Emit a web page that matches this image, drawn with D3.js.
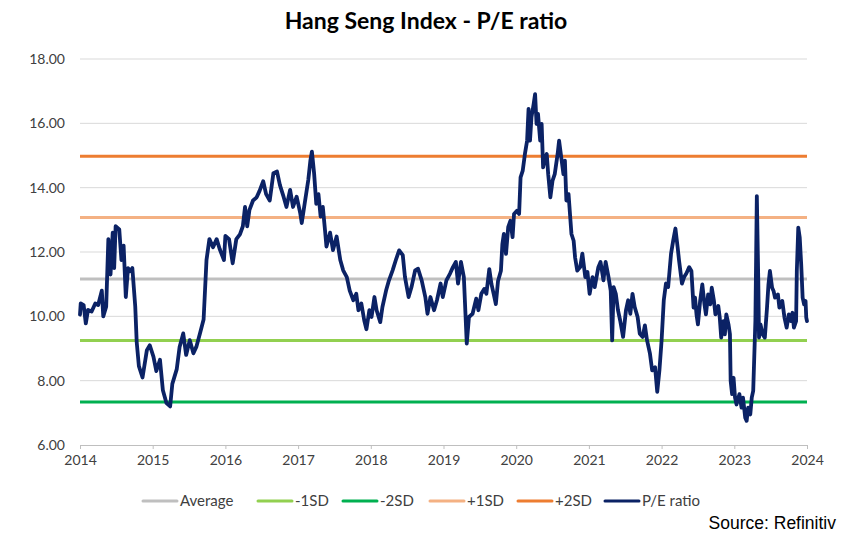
<!DOCTYPE html>
<html><head><meta charset="utf-8">
<script src="https://cdn.jsdelivr.net/npm/d3@7"></script>
<style>body{margin:0;background:#fff}</style>
</head><body><svg id="c" width="842" height="540"></svg>
<script>
const chartTitle = "Hang Seng Index - P/E ratio";
const sourceText = "Source: Refinitiv";
const xTickYears = [2014,2015,2016,2017,2018,2019,2020,2021,2022,2023,2024];
const yTickValues = [6,8,10,12,14,16,18];
const levelNames = ["Average","-1SD","-2SD","+1SD","+2SD"];
const levelValues = [11.16, 9.25, 7.34, 13.07, 14.98];
const seriesName = "P/E ratio";
const peDates = [
2014.00,2014.01,2014.05,2014.08,2014.11,2014.16,2014.21,2014.25,2014.30,2014.32,2014.36,2014.39,2014.42,2014.45,2014.47,2014.49,2014.54,2014.57,2014.60,2014.63,2014.66,2014.69,2014.72,2014.76,2014.78,2014.81,2014.86,2014.92,2014.96,
2015.01,2015.05,2015.10,2015.14,2015.19,2015.24,2015.27,2015.33,2015.37,2015.42,2015.46,2015.51,2015.56,2015.60,2015.65,2015.70,2015.74,2015.78,2015.83,2015.88,2015.92,2015.98,
2016.00,2016.05,2016.10,2016.15,2016.20,2016.24,2016.27,2016.30,2016.33,2016.38,2016.43,2016.47,2016.52,2016.56,2016.61,2016.66,2016.71,2016.75,2016.80,2016.84,2016.89,2016.93,2016.98,
2017.03,2017.05,2017.09,2017.14,2017.17,2017.19,2017.22,2017.25,2017.28,2017.31,2017.34,2017.37,2017.39,2017.44,2017.48,2017.53,2017.58,2017.62,2017.67,2017.71,2017.76,2017.80,2017.83,2017.87,2017.91,2017.94,2017.98,
2018.01,2018.05,2018.08,2018.13,2018.16,2018.21,2018.25,2018.30,2018.35,2018.39,2018.44,2018.47,2018.52,2018.56,2018.61,2018.65,2018.70,2018.75,2018.78,2018.82,2018.87,2018.91,2018.96,2018.99,
2019.04,2019.09,2019.13,2019.17,2019.20,2019.24,2019.28,2019.32,2019.35,2019.40,2019.45,2019.48,2019.52,2019.56,2019.59,2019.63,2019.66,2019.69,2019.72,2019.75,2019.79,2019.81,2019.83,2019.86,2019.89,2019.92,2019.95,2019.97,
2020.01,2020.04,2020.06,2020.09,2020.12,2020.15,2020.17,2020.19,2020.21,2020.24,2020.26,2020.28,2020.30,2020.33,2020.35,2020.37,2020.40,2020.42,2020.44,2020.47,2020.50,2020.53,2020.57,2020.59,2020.62,2020.65,2020.67,2020.69,2020.72,2020.74,2020.76,2020.79,2020.81,2020.84,2020.88,2020.91,2020.95,2020.98,
2021.01,2021.05,2021.08,2021.13,2021.16,2021.20,2021.23,2021.27,2021.30,2021.32,2021.34,2021.37,2021.40,2021.43,2021.47,2021.51,2021.54,2021.57,2021.60,2021.63,2021.67,2021.70,2021.74,2021.77,2021.80,2021.84,2021.87,2021.91,2021.94,2021.97,
2022.00,2022.03,2022.06,2022.09,2022.13,2022.16,2022.19,2022.22,2022.24,2022.28,2022.31,2022.34,2022.38,2022.41,2022.44,2022.46,2022.48,2022.50,2022.53,2022.56,2022.59,2022.61,2022.64,2022.67,2022.69,2022.72,2022.74,2022.78,2022.80,2022.82,2022.85,2022.87,2022.89,2022.92,2022.94,2022.95,2022.97,2022.99,
2023.01,2023.03,2023.07,2023.10,2023.12,2023.15,2023.17,2023.19,2023.22,2023.24,2023.26,2023.29,2023.31,2023.33,2023.34,2023.36,2023.39,2023.42,2023.45,2023.47,2023.49,2023.52,2023.54,2023.56,2023.60,2023.62,2023.66,2023.69,2023.72,2023.75,2023.78,2023.80,2023.82,2023.85,2023.86,2023.88,2023.90,2023.92,2023.94,2023.96,2023.98,2023.99,2024.00
];
const peValues = [
10.05,10.4,10.35,9.78,10.2,10.15,10.4,10.35,10.8,10.0,10.3,12.4,11.3,12.6,11.5,12.8,12.7,11.75,12.2,10.6,11.5,11.4,11.5,10.3,9.2,8.45,8.1,8.95,9.1,
8.75,8.3,8.65,7.7,7.3,7.2,7.9,8.35,9.05,9.47,8.8,9.26,8.85,9.05,9.47,9.9,11.75,12.4,12.15,12.4,12.1,11.75,
12.5,12.4,11.65,12.4,12.55,12.8,13.4,12.8,13.3,13.6,13.7,13.9,14.2,13.8,13.6,14.45,14.5,14.08,13.72,13.4,13.93,13.4,13.72,
13.2,12.9,13.5,14.24,14.86,15.12,14.45,13.5,13.8,13.1,13.4,12.68,12.17,12.6,12.06,12.48,11.75,11.43,11.22,10.8,10.5,10.7,10.19,10.4,9.87,9.6,10.19,
9.98,10.6,10.19,9.82,10.29,10.8,11.12,11.43,11.79,12.05,11.9,11.22,10.6,10.91,11.43,11.48,11.12,10.6,10.08,10.6,10.19,10.5,11.02,10.6,
11.12,11.33,11.53,11.69,11.02,11.69,11.22,9.15,9.98,10.08,10.55,10.19,10.7,10.85,10.7,11.47,11.0,10.7,10.38,11.1,11.42,12.25,12.56,11.94,12.77,12.97,12.46,13.18,
13.28,13.18,14.32,14.53,15.05,15.46,16.45,15.46,16.19,16.6,16.91,15.98,16.29,15.46,15.98,14.63,14.94,15.05,14.42,13.7,14.22,14.42,15.05,15.46,14.94,14.42,14.84,13.6,13.8,13.18,12.56,12.35,11.83,11.42,11.53,11.95,11.22,11.38,
10.7,11.22,10.91,11.53,11.69,11.12,11.69,11.22,10.8,9.25,10.91,10.7,10.19,9.87,9.36,10.19,10.5,10.08,10.7,10.29,9.98,9.46,9.36,9.72,9.25,8.84,8.32,8.42,7.65,8.32,
9.25,10.5,11.02,10.91,11.95,12.36,12.73,12.16,11.74,11.02,11.22,11.33,11.53,11.41,10.27,10.58,10.06,9.75,10.48,10.99,10.37,10.06,10.68,10.37,10.89,10.48,10.06,10.32,9.96,9.34,9.85,9.44,10.06,9.75,9.44,7.99,7.58,8.09,
7.47,7.26,7.58,7.16,7.47,6.85,6.75,7.16,6.95,7.47,7.68,9.85,13.74,11.1,9.34,9.75,9.44,9.34,10.27,10.99,11.41,10.89,10.79,10.58,10.68,10.27,10.48,9.96,9.65,10.06,9.85,10.11,9.65,9.85,11.41,12.76,12.45,11.62,10.58,10.37,10.48,9.96,9.85
];

const levelColors = {"Average":"#bfbfbf","-1SD":"#92d050","-2SD":"#00b050","+1SD":"#f4b183","+2SD":"#ed7d31"};
const peColor = "#0b2265";
const font = "Lato, 'Open Sans', sans-serif";

const svg = d3.select("#c");
svg.append("rect").attr("width",842).attr("height",540).attr("fill","#fff");

const x = d3.scaleLinear().domain([2014,2024]).range([80,807]);
const y = d3.scaleLinear().domain([6,18]).range([445,59]);

// title
svg.append("text").attr("x",426).attr("y",29).attr("text-anchor","middle")
  .attr("font-family",font).attr("font-weight","bold").attr("font-size",23)
  .attr("fill","#000").text(chartTitle);

// gridlines
svg.append("g").selectAll("line").data(yTickValues.filter(v=>v>6)).join("line")
  .attr("x1",x(2014)).attr("x2",x(2024)).attr("y1",d=>y(d)).attr("y2",d=>y(d))
  .attr("stroke","#d9d9d9").attr("stroke-width",1);

// y axis labels
const yAxis = d3.axisLeft(y).tickValues(yTickValues).tickFormat(d3.format(".2f")).tickSize(0).tickPadding(15);
const gy = svg.append("g").attr("transform",`translate(${x(2014)},0)`).call(yAxis);
gy.select(".domain").remove();
gy.selectAll("text").attr("font-family",font).attr("font-size",14).attr("fill","#404040");

// x axis
const xAxis = d3.axisBottom(x).tickValues(xTickYears).tickFormat(d3.format("d")).tickSize(4).tickPadding(6);
const gx = svg.append("g").attr("transform",`translate(0,${y(6)})`).call(xAxis);
gx.select(".domain").attr("stroke","#bfbfbf");
gx.selectAll(".tick line").attr("stroke","#bfbfbf");
gx.selectAll("text").attr("font-family",font).attr("font-size",14).attr("fill","#404040");

// level lines
svg.append("g").selectAll("line").data(levelNames).join("line")
  .attr("x1",x(2014)).attr("x2",x(2024))
  .attr("y1",(d,i)=>y(levelValues[i])).attr("y2",(d,i)=>y(levelValues[i]))
  .attr("stroke",d=>levelColors[d]).attr("stroke-width",3);

// PE line
const pts = peDates.map((d,i)=>[d,peValues[i]]);
svg.append("path").datum(pts)
  .attr("d",d3.line().x(d=>x(d[0])).y(d=>y(d[1])))
  .attr("fill","none").attr("stroke",peColor).attr("stroke-width",3.8)
  .attr("stroke-linejoin","round").attr("stroke-linecap","round");

// legend
const legendItems = levelNames.map(n=>({name:n,color:levelColors[n]})).concat([{name:seriesName,color:peColor}]);
const legendX = [143,258,343,430,518,605];
const lg = svg.append("g");
legendItems.forEach((it,i)=>{
  const g = lg.append("g").attr("transform",`translate(${legendX[i]},501)`);
  g.append("line").attr("x1",0).attr("x2",34).attr("y1",0).attr("y2",0)
    .attr("stroke",it.color).attr("stroke-width",3).attr("stroke-linecap","round");
  g.append("text").attr("x",37).attr("y",0).attr("dy","0.35em")
    .attr("font-family",font).attr("font-size",15).attr("fill","#404040").text(it.name);
});

// source
svg.append("text").attr("x",836).attr("y",529).attr("text-anchor","end")
  .attr("font-family","'Liberation Sans', Arial, sans-serif").attr("font-size",17.5)
  .attr("fill","#000").text(sourceText);
</script></body></html>
